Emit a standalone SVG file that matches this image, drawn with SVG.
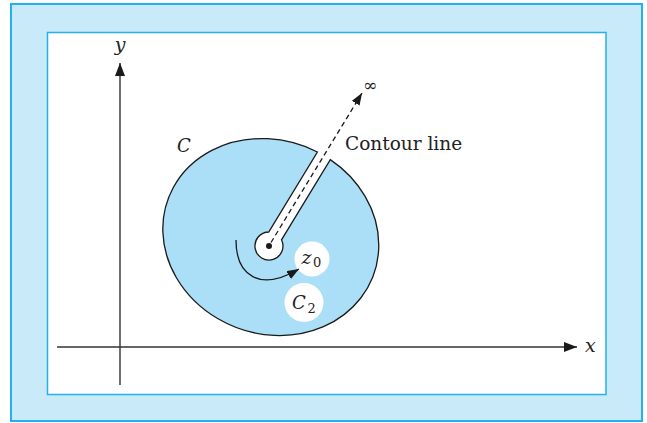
<svg xmlns="http://www.w3.org/2000/svg" width="647" height="423" viewBox="0 0 647 423">
<style>
.frame{fill:#c8eaf9;stroke:#22b1ec;stroke-width:2}
.panel{fill:#ffffff;stroke:#22b1ec;stroke-width:1.5}
.axis{fill:none;stroke:#333333;stroke-width:1.4}
.line{fill:none;stroke:#1a1a1a;stroke-width:1.3}
.dash{fill:none;stroke:#1a1a1a;stroke-width:1.3;stroke-dasharray:5 3.5}
.region{fill:#abdff7;stroke:#1a1a1a;stroke-width:1.3}
.hole{fill:#ffffff;stroke:none}
.t{font-family:"DejaVu Serif",serif;fill:#222222}
.it{font-family:"DejaVu Serif",serif;font-style:italic;fill:#222222}
</style>
<defs>
<marker id="ah" viewBox="0 0 13 10" refX="13" refY="5" markerWidth="13" markerHeight="10" markerUnits="userSpaceOnUse" orient="auto">
<path d="M0,0 L13,5 L0,10 Z" fill="#1a1a1a" stroke="none"/>
</marker>
<marker id="ahs" viewBox="0 0 12 9" refX="12" refY="4.5" markerWidth="12" markerHeight="9" markerUnits="userSpaceOnUse" orient="auto">
<path d="M0,0 L12,4.5 L0,9 Z" fill="#1a1a1a" stroke="none"/>
</marker>
</defs>
<rect class="frame" x="11" y="4" width="631" height="417"/>
<rect class="panel" x="47.5" y="32.5" width="558.5" height="362"/>
<g id="region-C">
<path class="region" d="M 330.3,159.6 A 109.5 96.8 20.8 1 1 317.4,152.0 L 268.7,232 A 14 14 0 1 0 281.5,239.8 Z"/>
<text class="it" x="177" y="152" font-size="18">C</text>
</g>
<g id="z0">
<circle cx="269" cy="246" r="3" fill="#1a1a1a"/>
<circle class="hole" cx="312" cy="259" r="17.5"/>
<text class="it" x="301.5" y="263.5" font-size="19">z</text>
<text class="t" x="313" y="267" font-size="13">0</text>
</g>
<g id="C2">
<circle class="hole" cx="304" cy="302.5" r="19.5"/>
<text class="it" x="292" y="308.5" font-size="18">C</text>
<text class="t" x="307.5" y="313" font-size="13">2</text>
</g>
<g id="labels">
<text class="it" x="120" y="51" font-size="19" text-anchor="middle">y</text>
<text class="it" x="585" y="352" font-size="19">x</text>
<text class="t" x="370" y="90.5" font-size="17" text-anchor="middle">∞</text>
<text class="t" x="345" y="150" font-size="18.5">Contour line</text>
</g>
<g id="connectors">
<path class="axis" d="M120,385 L120,63" marker-end="url(#ah)"/>
<path class="axis" d="M57,347 L577,347" marker-end="url(#ah)"/>
<path class="dash" d="M271,242.5 L362,93" marker-end="url(#ahs)"/>
<path class="line" d="M236,240 C236,276 260,292 299,269" marker-end="url(#ahs)"/>
</g>
</svg>
